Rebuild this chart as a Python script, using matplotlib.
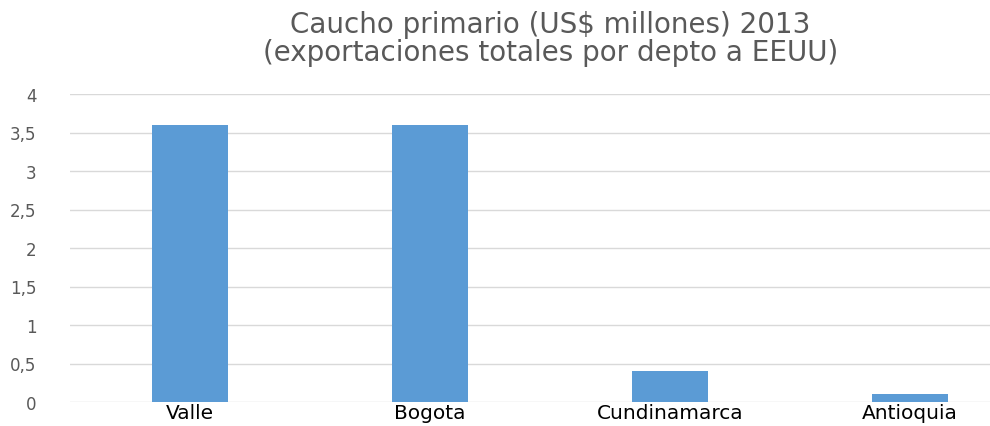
import matplotlib.pyplot as plt
from matplotlib.ticker import FuncFormatter

departamentos = ["Valle", "Bogota", "Cundinamarca", "Antioquia"]
exportaciones = [3.6, 3.6, 0.4, 0.1]
y_ticks = [0, 0.5, 1, 1.5, 2, 2.5, 3, 3.5, 4]

plt.rcParams['font.family'] = ['DejaVu Sans']

fig = plt.figure(figsize=(9.9, 4.27), dpi=100)
ax = fig.add_axes([70 / 990, 24 / 427, 920 / 990, 308 / 427])

x = range(len(departamentos))
ax.bar(x, exportaciones, width=0.32, color="#5b9bd5", zorder=3)

ax.set_xlim(-0.5, 3 + 80 / 240)
ax.set_ylim(0, 4)
ax.set_yticks(y_ticks)
ax.yaxis.set_major_formatter(FuncFormatter(lambda v, p: f"{v:g}".replace(".", ",")))
ax.grid(axis="y", color="#d9d9d9", linewidth=1, zorder=0)
ax.set_xticks(list(x))
ax.set_xticklabels(departamentos, fontsize=14.5, color="#000000")
ax.tick_params(axis="x", length=0, pad=1)
ax.tick_params(axis="y", length=0, pad=24, labelsize=12, labelcolor="#595959")
for s in ax.spines.values():
    s.set_visible(False)

fig.text(0.556, 0.975, "Caucho primario (US$ millones) 2013\n(exportaciones totales por depto a EEUU)",
         ha="center", va="top", fontsize=20, color="#595959", linespacing=1.0)

fig.savefig("out.png", dpi=100)
